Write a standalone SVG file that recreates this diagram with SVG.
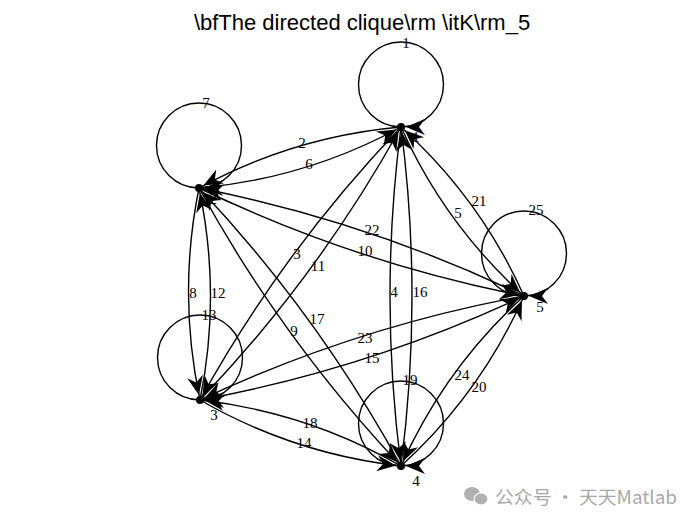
<svg xmlns="http://www.w3.org/2000/svg" width="700" height="525" viewBox="0 0 700 525">
<style>
.e{fill:none;stroke:#000;stroke-width:1.4;marker-end:url(#ah)}
.lb{font-family:"Liberation Serif","DejaVu Serif",serif;font-size:15px;fill:#000;text-anchor:middle}
.title{font-family:"Liberation Sans",Arial,sans-serif;font-size:22px;fill:#000;text-anchor:middle}
.wm{font-family:"Noto Sans CJK SC","Noto Sans",sans-serif;font-size:18px;fill:#a8a8a8}
.nd{fill:#000}
</style>
<defs>
<marker id="ah" markerUnits="userSpaceOnUse" markerWidth="24" markerHeight="18" refX="5" refY="0" orient="auto" overflow="visible">
<path d="M0,0 L-19,-8 L-13,0 L-19,8 Z" fill="#000"/>
</marker>
</defs>
<rect width="700" height="525" fill="#fff"/>
<text class="title" x="362" y="30">\bfThe directed clique\rm \itK\rm_5</text>
<g id="node2label"><text class="lb" x="213" y="204">2</text></g>
<g id="edges">
<path id="e1" class="e" d="M401,127 A42.5,42.5 0 0 1 401,42 A42.5,42.5 0 0 1 401,127"/>
<path id="e2" class="e" d="M401,127 Q293.6,136.4 199,188"/>
<path id="e6" class="e" d="M199,188 Q306.4,178.6 401,127"/>
<path id="e3" class="e" d="M401,127 Q282.8,250.5 200,400"/>
<path id="e11" class="e" d="M200,400 Q318.2,276.5 401,127"/>
<path id="e4" class="e" d="M401,127 Q379,296.5 401,466"/>
<path id="e16" class="e" d="M401,466 Q423,296.5 401,127"/>
<path id="e5" class="e" d="M401,127 Q444.7,224.5 524,296"/>
<path id="e21" class="e" d="M524,296 Q480.3,198.5 401,127"/>
<path id="e7" class="e" d="M199,188 A42.5,42.5 0 0 1 199,103 A42.5,42.5 0 0 1 199,188"/>
<path id="e8" class="e" d="M199,188 Q177.5,294 200,400"/>
<path id="e12" class="e" d="M200,400 Q221.5,294 199,188"/>
<path id="e9" class="e" d="M199,188 Q282.2,339.9 401,466"/>
<path id="e17" class="e" d="M401,466 Q317.8,314.1 199,188"/>
<path id="e10" class="e" d="M199,188 Q354.6,262.9 524,296"/>
<path id="e22" class="e" d="M524,296 Q368.4,221.1 199,188"/>
<path id="e13" class="e" d="M200,400 A42.5,42.5 0 0 1 200,315 A42.5,42.5 0 0 1 200,400"/>
<path id="e14" class="e" d="M200,400 Q293.6,453.9 401,466"/>
<path id="e18" class="e" d="M401,466 Q307.4,412.1 200,400"/>
<path id="e15" class="e" d="M200,400 Q368.7,368.9 524,296"/>
<path id="e23" class="e" d="M524,296 Q355.3,327.1 200,400"/>
<path id="e19" class="e" d="M401,466 A42.5,42.5 0 0 1 401,381 A42.5,42.5 0 0 1 401,466"/>
<path id="e20" class="e" d="M401,466 Q480.3,393.9 524,296"/>
<path id="e24" class="e" d="M524,296 Q444.7,368.1 401,466"/>
<path id="e25" class="e" d="M524,296 A42.5,42.5 0 0 1 524,211 A42.5,42.5 0 0 1 524,296"/>
</g>
<g id="edge-labels">
<text class="lb" x="406" y="48">1</text>
<text class="lb" x="302" y="148">2</text>
<text class="lb" x="297" y="259">3</text>
<text class="lb" x="394" y="297">4</text>
<text class="lb" x="458" y="218">5</text>
<text class="lb" x="309" y="169">6</text>
<text class="lb" x="206" y="108">7</text>
<text class="lb" x="193" y="298">8</text>
<text class="lb" x="294" y="336">9</text>
<text class="lb" x="365" y="256">10</text>
<text class="lb" x="318" y="271">11</text>
<text class="lb" x="218" y="298">12</text>
<text class="lb" x="209" y="320">13</text>
<text class="lb" x="304" y="448">14</text>
<text class="lb" x="372" y="363">15</text>
<text class="lb" x="420" y="297">16</text>
<text class="lb" x="317" y="324">17</text>
<text class="lb" x="310" y="428">18</text>
<text class="lb" x="410" y="385">19</text>
<text class="lb" x="479" y="392">20</text>
<text class="lb" x="479" y="206">21</text>
<text class="lb" x="372" y="235">22</text>
<text class="lb" x="365" y="343">23</text>
<text class="lb" x="462" y="380">24</text>
<text class="lb" x="536" y="215">25</text>
</g>
<g id="n1"><circle class="nd" cx="401" cy="127" r="4"/><text class="lb" x="416" y="142">1</text></g>
<g id="n2"><circle class="nd" cx="199" cy="188" r="4"/></g>
<g id="n3"><circle class="nd" cx="200" cy="400" r="4"/><text class="lb" x="214" y="420">3</text></g>
<g id="n4"><circle class="nd" cx="401" cy="466" r="4"/><text class="lb" x="416" y="486">4</text></g>
<g id="n5"><circle class="nd" cx="524" cy="296" r="4"/><text class="lb" x="540" y="312">5</text></g>
<g id="watermark">
<ellipse cx="472" cy="494" rx="8" ry="7" fill="#b0b0b0"/>
<ellipse cx="481" cy="499" rx="7" ry="6" fill="#b0b0b0" stroke="#fff" stroke-width="1.2"/>
<text class="wm" x="495" y="504" textLength="182" lengthAdjust="spacingAndGlyphs">公众号 · 天天Matlab</text>
</g>
</svg>
